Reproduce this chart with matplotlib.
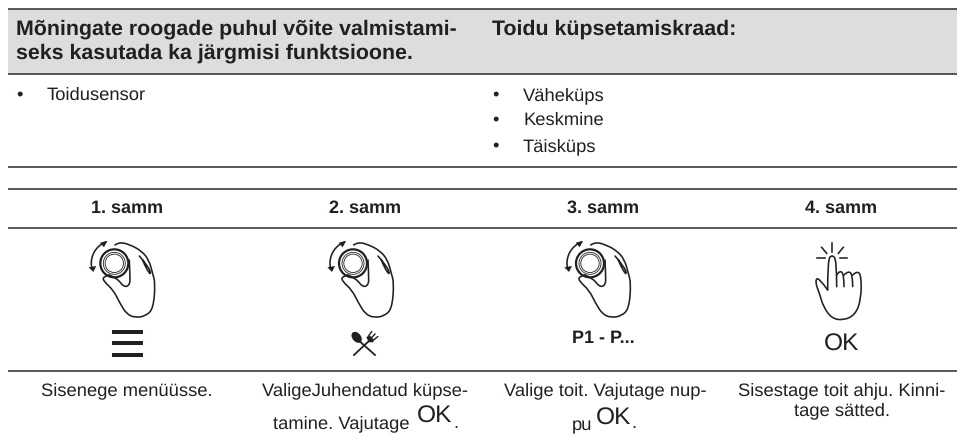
import numpy as np
import matplotlib
matplotlib.use("Agg")
import matplotlib.pyplot as plt
from matplotlib.path import Path
from matplotlib.patches import PathPatch, Circle, Rectangle, Ellipse, Polygon

plt.rcParams['font.family'] = ['Liberation Sans', 'DejaVu Sans']
plt.rcParams['text.hinting'] = 'none'
plt.rcParams['text.hinting_factor'] = 8

INK = '#231f20'
LINE = '#2b2b2b'
GRAY = '#dcddde'
W, H = 957, 438
PX = 0.72
BODY = 18.4
HEAD = 21.4
OK_SIZE = 24.5

header_left = ["Mõningate roogade puhul võite valmistami-", "seks kasutada ka järgmisi funktsioone."]
header_right = "Toidu küpsetamiskraad:"
left_items = ["Toidusensor"]
right_items = ["Väheküps", "Keskmine", "Täisküps"]
step_titles = ["1. samm", "2. samm", "3. samm", "4. samm"]
step_centers = [127, 365, 603, 841]
rule_ys = [9, 74, 166.5, 189, 228, 370.5]

fig = plt.figure(figsize=(W / 100, H / 100), dpi=100)
ax = fig.add_axes([0, 0, 1, 1])
ax.set_xlim(0, W)
ax.set_ylim(H, 0)
ax.axis('off')

X0, X1 = 8, 957
ax.add_patch(Rectangle((X0, rule_ys[0]), X1 - X0, rule_ys[1] - rule_ys[0], fc=GRAY, ec='none'))
for y in rule_ys:
    ax.plot([X0, X1], [y, y], color=LINE, lw=1.1, solid_capstyle='butt')


def txt(x, y, s, size=BODY, weight='normal', ha='left'):
    ax.text(x, y, s, fontsize=size * PX, fontweight=weight, ha=ha, va='baseline', color=INK)


for y, s in zip([35, 59], header_left):
    txt(16, y, s, size=HEAD, weight='bold')
txt(492.5, 35, header_right, size=HEAD, weight='bold')

for y, s in zip([100], left_items):
    txt(16, y, "•")
    txt(47, y, s)
for y, s in zip([100, 125, 151], right_items):
    txt(492, y, "•")
    txt(523, y, s)

for x, s in zip(step_centers, step_titles):
    txt(x, 213, s, size=18.0, weight='bold', ha='center')


def smooth(pts, ox, oy, lw=1.15):
    p = np.array(pts, float) / 3 + [ox, oy]
    verts = [p[0]]
    codes = [Path.MOVETO]
    for i in range(1, len(p) - 1):
        mid = (p[i] + p[i + 1]) / 2 if i < len(p) - 2 else p[i + 1]
        verts += [p[i], mid]
        codes += [Path.CURVE3, Path.CURVE3]
    if len(p) == 2:
        verts.append(p[1])
        codes.append(Path.LINETO)
    ax.add_patch(PathPatch(Path(verts, codes), fc='none', ec=INK, lw=lw, capstyle='round', joinstyle='round'))


def knob_hand(cx):
    ox, oy = cx - 103 / 3, 240
    smooth([(105, 15), (118, 6), (150, 14), (185, 33), (207, 60), (218, 100), (226, 130), (220, 205),
            (198, 228), (165, 233), (140, 222), (120, 190), (100, 150), (72, 125), (68, 110), (88, 105)], ox, oy)
    smooth([(88, 105), (112, 115), (132, 142), (150, 135), (150, 105), (148, 60)], ox, oy)
    smooth([(178, 48), (205, 78), (215, 108), (198, 85), (188, 60)], ox, oy)
    c = (cx, 240 + 70 / 3)
    ax.add_patch(Circle(c, 14, fc='none', ec=INK, lw=1.6))
    ax.add_patch(Circle(c, 11, fc='none', ec=INK, lw=0.6))
    ax.add_patch(Circle(c, 9.2, fc='none', ec=INK, lw=0.6))
    t = np.radians(np.linspace(112, 192, 30))
    ax.plot(cx + 23 * np.cos(t), c[1] - 23 * np.sin(t), color=INK, lw=1.15)
    ax.add_patch(Polygon(np.array([(82, 3), (60, 8), (72, 22)]) / 3 + [ox, oy], fc=INK, ec='none'))
    ax.add_patch(Polygon(np.array([(40, 96), (26, 82), (49, 78)]) / 3 + [ox, oy], fc=INK, ec='none'))


for cx in [114.3, 353, 590]:
    knob_hand(cx)

# menu glyph
for y in [330, 341.3, 353]:
    ax.add_patch(Rectangle((112, y), 31, 4, fc=INK, ec='none'))

# spoon and fork (3x crop at 330, 325)
ox, oy = 330, 325
ax.plot(np.array([72, 120]) / 3 + ox, np.array([90, 45]) / 3 + oy, color=INK, lw=1.3)
ax.plot(np.array([135, 88]) / 3 + ox, np.array([90, 48]) / 3 + oy, color=INK, lw=1.3)
ax.add_patch(Ellipse((80 / 3 + ox, 37 / 3 + oy), 8.5, 12.5, angle=-40, fc=INK, ec='none'))
ax.add_patch(Polygon(np.array([(110, 38), (116, 52), (130, 52), (130, 42), (120, 32)]) / 3 + [ox, oy], fc=INK, ec='none'))
for a, b in [((112, 38), (125, 20)), ((120, 43), (135, 27)), ((127, 48), (143, 35))]:
    ax.plot([a[0] / 3 + ox, b[0] / 3 + ox], [a[1] / 3 + oy, b[1] / 3 + oy], color=INK, lw=1.0)

txt(603, 343, "P1 - P...", size=18.0, weight='bold', ha='center')

# pointing hand
ox, oy = 560, 240
smooth([(803, 150), (803, 60), (816, 44), (830, 60), (830, 140)], ox, oy)
smooth([(830, 105), (840, 90), (852, 105), (852, 140)], ox, oy)
smooth([(852, 105), (865, 92), (878, 105), (878, 140)], ox, oy)
smooth([(878, 105), (892, 92), (904, 108), (903, 180), (885, 225), (850, 241), (815, 235), (790, 200),
        (780, 165), (765, 125), (775, 110), (803, 150)], ox, oy)
for a, b in [((816, 10), (816, 35)), ((785, 22), (800, 40)), ((770, 55), (795, 55)),
             ((850, 22), (835, 40)), ((840, 55), (862, 55))]:
    ax.plot([a[0] / 3 + ox, b[0] / 3 + ox], [a[1] / 3 + oy, b[1] / 3 + oy], color=INK, lw=1.15)

txt(841.5, 351, "OK", size=OK_SIZE, ha='center')

txt(127, 395, "Sisenege menüüsse.", ha='center')
txt(364.5, 395, "ValigeJuhendatud küpse-", ha='center')
txt(273, 428, "tamine. Vajutage")
txt(417, 423, "OK", size=OK_SIZE)
txt(453.5, 428, ".")
txt(605, 395, "Valige toit. Vajutage nup-", ha='center')
txt(572, 430, "pu")
txt(596, 425, "OK", size=OK_SIZE)
txt(631, 428, ".")
txt(842, 395, "Sisestage toit ahju. Kinni-", ha='center')
txt(842, 415, "tage sätted.", ha='center')

fig.savefig("out.png", dpi=100)
